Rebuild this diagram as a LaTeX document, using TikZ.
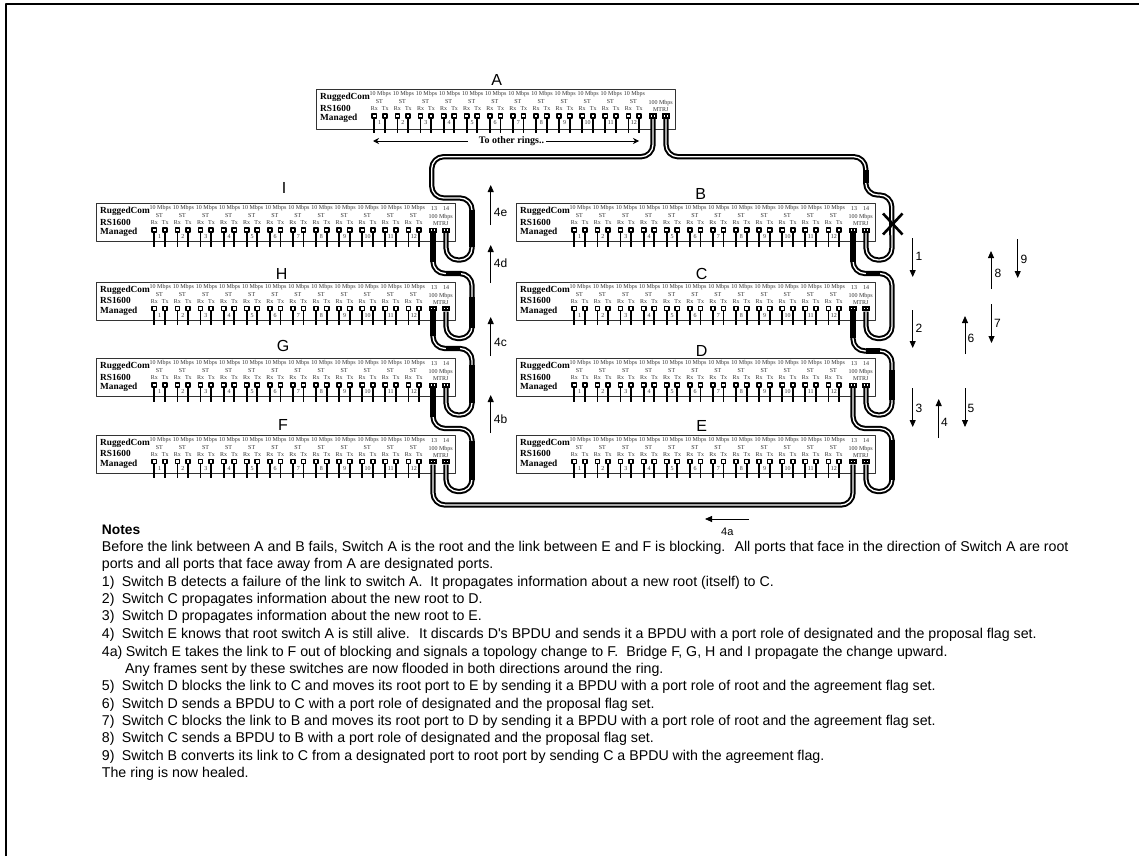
\documentclass[tikz,border=0pt]{standalone}
\usepackage{fontspec}
\setmainfont{Liberation Serif}
\newfontfamily\arialfont{Liberation Sans}
\usetikzlibrary{calc,arrows.meta}

\begin{document}
\begin{tikzpicture}[x=1pt, y=-1pt, line join=round]

% ---------------- styles ----------------
\tikzset{
  switchBox/.style  ={draw=black!80, line width=1.3pt, fill=white, inner sep=0pt, anchor=north west},
  switchName/.style ={inner sep=0pt, anchor=west, font=\fontsize{9.3}{9.3}\selectfont\bfseries},
  portText/.style   ={inner sep=0pt, text=black!80, font=\fontsize{6}{6}\selectfont},
  portHole/.style   ={draw=black, line width=1.6pt, fill=white},
  pigTail/.style    ={line width=1.8pt},
  ringCable/.style  ={line width=2pt, double=white, double distance=1.3pt, rounded corners=12pt},
  cableSolid/.style ={line width=5.3pt},
  stepArrow/.style  ={line width=0.8pt, -{Triangle[length=7pt,width=6pt]}},
  stepText/.style   ={inner sep=0pt, font=\arialfont\fontsize{12}{12}\selectfont},
  switchLetter/.style={inner sep=0pt, font=\arialfont\fontsize{16}{16}\selectfont},
  noteText/.style   ={inner sep=0pt, anchor=west, yshift=-1pt, font=\arialfont\fontsize{14.2}{15}\selectfont}
}

% ---------------- parameters (tune once) ----------------
\def\BoxW{358.5}   % switch width
\def\PortY{27}     % port centre below box top
\def\LoopDrop{27}  % port 14 down to the loop bottom

% helper: one switch, top left at (x,y)
\newcommand{\SwitchUnit}[4]{%
  \begin{scope}[shift={(#2,#3)}]
    \node[switchBox, minimum width=\BoxW pt, minimum height=#4 pt] (#1) at (0,0) {};
    \node[switchName] (#1-l1) at (4,8.3)  {RuggedCom};
    \node[switchName] (#1-l2) at (4,19.2) {RS1600};
    \node[switchName] (#1-l3) at (4,29.7) {Managed};
    % twelve ST pairs
    \foreach \n in {1,...,12} {
      \pgfmathsetmacro{\xp}{58.3+(\n-1)*23.1}
      \draw[pigTail] (\xp,\PortY) -- (\xp,43.7);
      \draw[pigTail] (\xp+10.6,\PortY) -- (\xp+10.6,43.7);
      \path[portHole] (\xp-2.1,\PortY-2.1) rectangle (\xp+2.1,\PortY+2.1);
      \path[portHole] (\xp+8.5,\PortY-2.1) rectangle (\xp+12.7,\PortY+2.1);
      \node[portText] (#1-sp\n) at (\xp+6,5.4)  {10 Mbps};
      \node[portText] (#1-st\n) at (\xp+5,13)   {ST};
      \node[portText] (#1-rx\n) at (\xp,19.8)   {Rx};
      \node[portText] (#1-tx\n) at (\xp+11,19.8){Tx};
      \node[portText] (#1-no\n) at (\xp+5.4,33.8){\n};
    }
    % MTRJ pair
    \node[portText] (#1-sp) at (344.7,14.5) {100 Mbps};
    \node[portText] (#1-mt) at (344.7,21)   {MTRJ};
    \foreach \xm/\m in {337/13,350/14} {
      \fill (\xm-4,\PortY-2.5) rectangle (\xm+4,\PortY+2.5);
      \fill[white] (\xm-2.4,\PortY-0.8) rectangle (\xm-0.6,\PortY+0.8);
      \fill[white] (\xm+0.6,\PortY-0.8) rectangle (\xm+2.4,\PortY+0.8);
      \coordinate (#1-\m) at (\xm,30);
    }
  \end{scope}
}

% helper: port 13 of one switch round to port 14 of the next
\newcommand{\RingLink}[3]{%
  \draw[ringCable] (#1) -- ++(0,#3) -- ++(39,0)
    -- ($(#2)+(26,\LoopDrop)$) -- ($(#2)+(0,\LoopDrop)$) -- (#2);
}

\path[use as bounding box, fill=white] (0,0) rectangle (1139,856);
\draw[line width=2pt] (6,856) -- (6,4) -- (1139,4);

% ---------------- switches ----------------
\SwitchUnit{a}{316}{89}{40}
\SwitchUnit{b}{516}{203}{38}
\SwitchUnit{c}{516}{281.5}{38}
\SwitchUnit{d}{516}{358}{38}
\SwitchUnit{e}{516}{434.5}{38.5}
\SwitchUnit{i}{96}{203}{38}
\SwitchUnit{h}{96}{281.5}{38}
\SwitchUnit{g}{96}{358}{38}
\SwitchUnit{f}{96}{434.5}{38.5}

\foreach \sw/\xs/\ys in {b/516/203,c/516/281.5,d/516/358,e/516/434.5,i/96/203,h/96/281.5,g/96/358,f/96/434.5} {
  \node[portText] (\sw-t13) at (\xs+338,\ys+6) {13};
  \node[portText] (\sw-t14) at (\xs+350,\ys+6) {14};
}

\foreach \sw/\xl/\yl/\tl in {na/496.7/80/A,nb/700.7/194/B,nc/701.7/274/C,nd/701.7/351/D,ne/701.7/426/E,
  ni/284/188/I,nh/281.7/274/H,ng/283/346/G,nf/283/425/F} {
  \node[switchLetter] (\sw) at (\xl,\yl) {\tl};
}

% ---------------- to other rings ----------------
\node[inner sep=0pt, font=\fontsize{10}{10}\selectfont\bfseries] (otherRings) at (511.5,141) {To other rings..};
\coordinate (ringsLeft)  at (373,141);
\coordinate (ringsRight) at (639,141);
\draw[line width=0.8pt, -{Stealth[length=6pt,width=6pt]}] ($(otherRings.west)+(-11,0)$) -- (ringsLeft);
\draw[line width=0.8pt, -{Stealth[length=6pt,width=6pt]}] ($(otherRings.east)+(2,0)$) -- (ringsRight);

% ---------------- ring ----------------
\coordinate (bendAB) at (891.7,195);
\coordinate (bendAI) at (431.7,198);
\draw[ringCable] (a-14) |- (865.7,156.7) |- (bendAB) -- ($(b-14)+(26,\LoopDrop)$) -- ($(b-14)+(0,\LoopDrop)$) -- (b-14);
\draw[ringCable] (a-13) |- (bendAI |- 0,156.7) -- (bendAI) -| ($(i-14)+(26,\LoopDrop)$) -- ($(i-14)+(0,\LoopDrop)$) -- (i-14);

\RingLink{b-13}{c-14}{40.5}
\RingLink{c-13}{d-14}{39.5}
\RingLink{d-13}{e-14}{40.5}
\RingLink{i-13}{h-14}{40.5}
\RingLink{h-13}{g-14}{37}
\RingLink{g-13}{f-14}{40.5}

\coordinate (ringBottom) at (640,505);
\draw[ringCable] (f-13) |- (ringBottom) -| (e-13);

% solid stretches of cable
\foreach \xa/\ya/\xb/\yb in {472/210/472/247,433/232/433/262,446/273.5/461/273.5,472/297/472/328,433/310/433/336,
  446/348.5/460/348.5,472/365/472/403,433/387/433/417,472/441/472/480,866/170/866/183,853/232/853/262,866/273.5/880/273.5,
  853/310/853/338,866/351/880/351,892/370/892/400,892/440/892/480} {
  \draw[cableSolid] (\xa,\ya) -- (\xb,\yb);
}

% the failed link
\draw[line width=2.6pt] (883,213.5) -- (902.5,234.5);
\draw[line width=2.6pt] (902.5,213.5) -- (883,234.5);

% ---------------- step arrows ----------------
\foreach \nm/\ax/\ya/\yb/\lx/\ly in {1/912.7/238/277/919/256,2/912.7/310/348/919/328,3/912.7/388/427/919/408,
  4/938.7/438/399/944.5/422,5/965/388/427/971/408,6/965/354/316/971/338,7/991.5/304/343/997.5/323,
  8/991/289/251/998/273,9/1017.7/239/278/1024/259,
  4b/490.7/433/395/500.5/419,4c/490.7/356/317/500.5/342,4d/490.7/283/245/500.5/263,4e/490.7/225/185/500.5/212} {
  \coordinate (tail\nm) at (\ax,\ya);
  \coordinate (head\nm) at (\ax,\yb);
  \draw[stepArrow] (tail\nm) -- (head\nm);
  \node[stepText] (step\nm) at (\lx,\ly) {\nm};
}
\coordinate (tail4a) at (749,519);
\coordinate (head4a) at (705,519);
\draw[stepArrow] (tail4a) -- (head4a);
\node[stepText, font=\arialfont\fontsize{11}{11}\selectfont] (step4a) at (727.3,531.5) {4a};

% ---------------- notes ----------------
\node[noteText, font=\arialfont\bfseries\fontsize{13.8}{15}\selectfont] (noteHead) at (101.7,529) {Notes};
\foreach \yn/\xn/\tn [count=\k] in {
  547/101.7/{Before the link between A and B fails, Switch A is the root and the link between E and F is blocking.~ All ports that face in the direction of Switch A are root},
  564/101.7/{ports and all ports that face away from A are designated ports.},
  581.5/101.7/{\makebox[20pt][l]{1)}Switch B detects a failure of the link to switch A.~ It propagates information about a new root (itself) to C.},
  599/101.7/{\makebox[20pt][l]{2)}Switch C propagates information about the new root to D.},
  616/101.7/{\makebox[20pt][l]{3)}Switch D propagates information about the new root to E.},
  634/101.7/{\makebox[20pt][l]{4)}Switch E knows that root switch A is still alive.~ It discards D's BPDU and sends it a BPDU with a port role of designated and the proposal flag set.},
  651.5/101.7/{\makebox[24pt][l]{4a)}Switch E takes the link to F out of blocking and signals a topology change to F.~ Bridge F, G, H and I propagate the change upward.},
  668.5/125/{Any frames sent by these switches are now flooded in both directions around the ring.},
  686/101.7/{\makebox[20pt][l]{5)}Switch D blocks the link to C and moves its root port to E by sending it a BPDU with a port role of root and the agreement flag set.},
  704/101.7/{\makebox[20pt][l]{6)}Switch D sends a BPDU to C with a port role of designated and the proposal flag set.},
  721/101.7/{\makebox[20pt][l]{7)}Switch C blocks the link to B and moves its root port to D by sending it a BPDU with a port role of root and the agreement flag set.},
  738/101.7/{\makebox[20pt][l]{8)}Switch C sends a BPDU to B with a port role of designated and the proposal flag set.},
  756/101.7/{\makebox[20pt][l]{9)}Switch B converts its link to C from a designated port to root port by sending C a BPDU with the agreement flag.},
  773/101.7/{The ring is now healed.}} {
  \node[noteText] (note\k) at (\xn,\yn) {\tn};
}

\end{tikzpicture}
\end{document}
